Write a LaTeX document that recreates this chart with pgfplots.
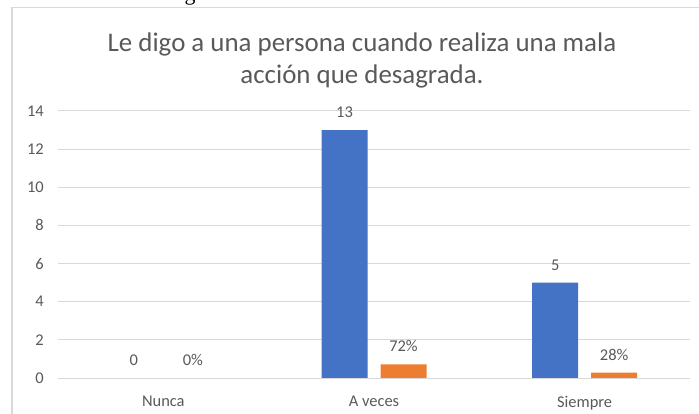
\documentclass[border=0pt]{standalone}
\usepackage{pgfplots}
\pgfplotsset{compat=1.18}
\usepackage{fontspec}
\setmainfont{Carlito}
\newfontfamily\seriffont{Liberation Serif}
\definecolor{xlblue}{HTML}{4472C4}
\definecolor{xlorange}{HTML}{ED7D31}
\definecolor{txtgray}{HTML}{595959}
\definecolor{gridgray}{HTML}{D9D9D9}

\begin{document}
\begin{tikzpicture}
\useasboundingbox (0bp,0bp) rectangle (699bp,414bp);
\clip (0bp,0bp) rectangle (699bp,414bp);
% chart frame
\draw[gridgray, line width=1.5bp] (12bp,-5bp) -- (12bp,406.5bp) -- (710bp,406.5bp);
% bottom of a letter from the line above the chart
\node[font=\seriffont\fontsize{22}{22}\selectfont, anchor=base, inner sep=0pt] at (190bp,413.5bp) {g};

% title
\node[font=\fontsize{27}{31}\selectfont, text=txtgray, anchor=base, inner sep=0pt] at (362bp,362bp) {Le digo a una persona cuando realiza una mala};
\node[font=\fontsize{27}{31}\selectfont, text=txtgray, anchor=base, inner sep=0pt] at (362bp,330bp) {acción que desagrada.};

\begin{axis}[
    at={(58bp,36bp)}, anchor=south west,
    scale only axis, width=632bp, height=267bp,
    xmin=-0.5, xmax=2.5, ymin=0, ymax=14,
    ytick={0,2,...,14}, xtick={0,1,2},
    xticklabels={Nunca, A veces, Siempre},
    ymajorgrids, grid style={gridgray, line width=1bp},
    axis line style={draw=none}, major tick length=0pt,
    ybar=13bp, bar width=46bp,
    /pgf/number format/assume math mode=true,
    tick label style={font=\fontsize{16.5}{18}\selectfont, text=txtgray},
    yticklabel style={inner sep=0pt, xshift=-14bp},
    xticklabel style={inner sep=0pt, yshift=-18bp},
    nodes near coords,
    nodes near coords style={font=\fontsize{16.5}{18}\selectfont, text=txtgray,
        inner sep=0pt, anchor=south, yshift=12bp,
        /pgf/number format/assume math mode=true},
]
\addplot[fill=xlblue, draw=none] coordinates {(0,0) (1,13) (2,5)};
\addplot[fill=xlorange, draw=none, point meta=explicit symbolic]
    coordinates {(0,0) [0\%] (1,0.72) [72\%] (2,0.28) [28\%]};
\end{axis}
\end{tikzpicture}
\end{document}
